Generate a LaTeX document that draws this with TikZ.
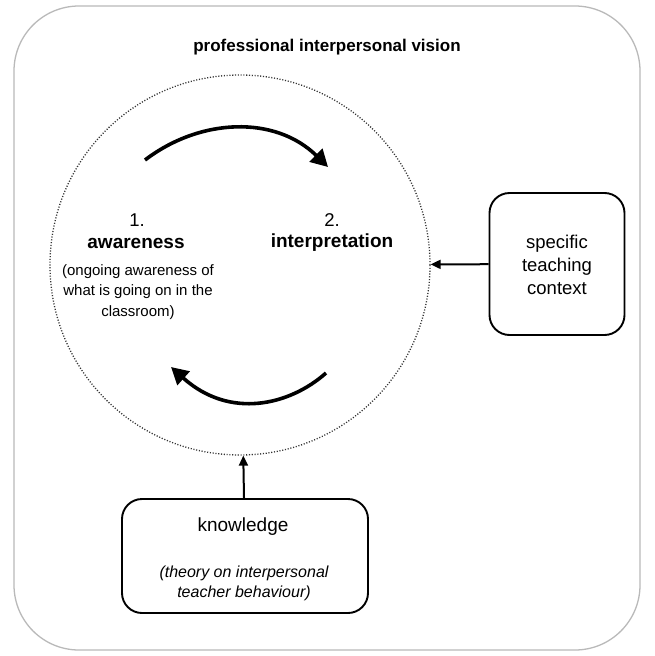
\documentclass[tikz,border=0pt]{standalone}
\usepackage{fontspec}
\setmainfont{Liberation Sans}
\usepackage{tikz}
\usetikzlibrary{arrows.meta}

\begin{document}
\begin{tikzpicture}[x=1pt, y=-1pt,
  txt/.style={align=center, inner sep=0pt, font=\fontsize{18.5}{23}\selectfont},
  small/.style={align=center, inner sep=0pt, font=\fontsize{15}{20.5}\selectfont},
  heading/.style={inner sep=0pt, font=\bfseries\fontsize{19}{23}\selectfont},
  infobox/.style={draw, line width=1.9pt, rounded corners=20pt, inner sep=0pt},
  cyclearrow/.style={line width=3.6pt, -{Triangle[length=17pt, width=18pt]}},
  feed/.style={line width=2pt, -{Triangle[length=10pt, width=9pt]}}]
\useasboundingbox (0,0) rectangle (654,656);
\draw[gray!55, line width=1.3pt, rounded corners=65pt] (14,6) rectangle (640,650);
\node[font=\bfseries\fontsize{17}{20}\selectfont] (title) at (327,47) {professional interpersonal vision};
\node[circle, draw, black!80, line width=1.3pt, dash pattern=on 1.1pt off 1.7pt, minimum size=380pt, inner sep=0pt] (vision) at (240,265) {};
\node[txt] (one) at (137,220) {1.};
\node[heading] (aware) at (136,243) {awareness};
\node[small] (awarenote) at (138,292) {(ongoing awareness of\\what is going on in the\\classroom)};
\node[txt] (two) at (332,220) {2.};
\node[heading] (interp) at (332,243) {interpretation};
\node[infobox, minimum width=135pt, minimum height=142pt] (context) at (557,264) {};
\node[txt] (contexttext) at (557,265) {specific\\teaching\\context};
\node[infobox, minimum width=246pt, minimum height=114pt] (know) at (245,556) {};
\node[txt, font=\fontsize{19}{23}\selectfont] (knowtext) at (243,527) {knowledge};
\node[txt, font=\itshape\fontsize{16}{20}\selectfont] (theory) at (244,583) {(theory on interpersonal\\teacher behaviour)};
\coordinate (topstart) at (145,160);
\coordinate (topend) at (328,167);
\coordinate (botstart) at (326,373);
\coordinate (botend) at (171,367);
\draw[cyclearrow] (topstart) .. controls (200,118) and (275,115) .. (topend);
\draw[cyclearrow] (botstart) .. controls (290,405) and (230,420) .. (botend);
\draw[feed] (context) -- (vision);
\draw[feed] (know) -- (vision);
\end{tikzpicture}
\end{document}
